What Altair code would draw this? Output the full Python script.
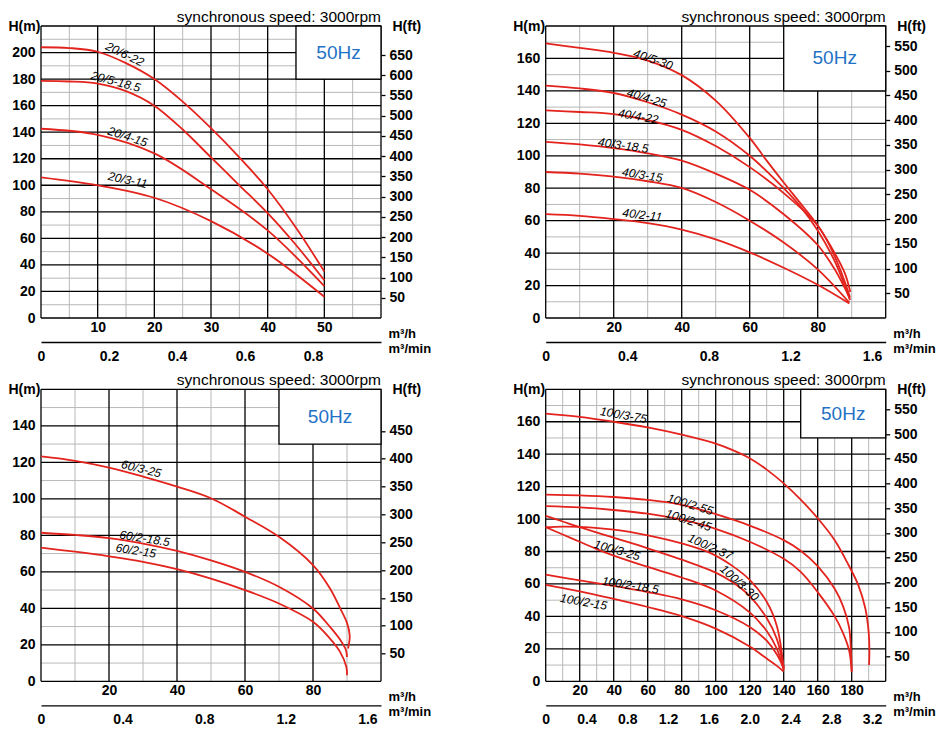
import altair as alt
import pandas as pd

FONT = "Liberation Sans"
RED = "#e3231d"
GRAY = "#b8b8b8"
BLUE = "#1f72c6"
W, H = 340, 292
FT = 3.28084
TITLE = "synchronous speed: 3000rpm"

# ---------------- Panel 1 (20/...) ----------------
P1_NAMES = ["20/6-22", "20/5-18.5", "20/4-15", "20/3-11"]
P1_Q = {
    "20/6-22": [0, 5, 10, 15, 20, 25, 30, 35, 40, 45, 50],
    "20/5-18.5": [0, 5, 10, 15, 20, 25, 30, 35, 40, 45, 50],
    "20/4-15": [0, 10, 20, 30, 40, 50],
    "20/3-11": [0, 10, 20, 30, 40, 50],
}
P1_H = {
    "20/6-22": [204, 203.4, 200.6, 192, 180, 163, 143, 121, 97, 68, 35],
    "20/5-18.5": [178.6, 178.2, 176.6, 171, 160, 142, 121, 100, 79, 55, 28.4],
    "20/4-15": [142.6, 138, 124, 97, 66, 24],
    "20/3-11": [106, 100, 90.6, 73, 48.5, 16],
}
P1_LABELS = [("20/6-22", 14.8, 198.7, 26), ("20/5-18.5", 13.2, 178.1, 15),
             ("20/4-15", 15.3, 136.6, 18), ("20/3-11", 15.3, 104, 12)]
P1_XTICKS = [10, 20, 30, 40, 50]
P1_YTICKS = [0, 20, 40, 60, 80, 100, 120, 140, 160, 180, 200]
P1_FTTICKS = [50, 100, 150, 200, 250, 300, 350, 400, 450, 500, 550, 600, 650]
P1_MINTICKS = [0, 0.2, 0.4, 0.6, 0.8]

# ---------------- Panel 2 (40/...) ----------------
P2_NAMES = ["40/5-30", "40/4-25", "40/4-22", "40/3-18.5", "40/3-15", "40/2-11"]
P2_Q = {
    "40/5-30": [0, 10, 20, 30, 40, 50, 60, 65, 70, 75, 80, 85, 88, 89.6],
    "40/4-25": [0, 10, 20, 30, 40, 50, 60, 70, 75, 80, 85, 89.5],
    "40/4-22": [0, 10, 20, 30, 40, 50, 60, 70, 80, 85, 89.5],
    "40/3-18.5": [0, 10, 20, 30, 40, 50, 60, 70, 80, 85, 89.5],
    "40/3-15": [0, 10, 20, 30, 40, 50, 60, 70, 80, 89.3],
    "40/2-11": [0, 10, 20, 30, 40, 50, 60, 70, 80, 89.3],
}
P2_H = {
    "40/5-30": [169.3, 166.5, 163.5, 158.7, 149.7, 134, 111, 97, 83.5, 70.5, 57, 40, 27.5, 16],
    "40/4-25": [143.3, 141.5, 138.7, 133, 125.4, 115, 100, 80, 68.5, 54, 35, 11],
    "40/4-22": [128, 127, 125.7, 122, 116, 106, 93, 77, 57, 38, 13],
    "40/3-18.5": [108.6, 107, 104.7, 101.5, 97, 89, 79, 64, 45, 30, 12],
    "40/3-15": [90, 89, 87.2, 84.3, 80.2, 71.5, 60, 46.5, 30, 9.5],
    "40/2-11": [64, 63, 61, 58.5, 54.5, 48.5, 40.5, 31, 20.5, 9],
}
P2_LABELS = [("40/5-30", 31.6, 159.4, 19), ("40/4-25", 29.7, 135.6, 17),
             ("40/4-22", 27.2, 124.3, 10), ("40/3-18.5", 22.8, 106.4, 8),
             ("40/3-15", 28.4, 88.2, 9), ("40/2-11", 28.4, 63.5, 7)]
P2_XTICKS = [20, 40, 60, 80]
P2_YTICKS = [0, 20, 40, 60, 80, 100, 120, 140, 160]
P2_FTTICKS = [50, 100, 150, 200, 250, 300, 350, 400, 450, 500, 550]
P2_MINTICKS = [0, 0.4, 0.8, 1.2, 1.6]

# ---------------- Panel 3 (60/...) ----------------
P3_NAMES = ["60/3-25", "60/2-18.5", "60/2-15"]
P3_Q = {
    "60/3-25": [0, 10, 20, 30, 40, 50, 60, 70, 80, 85, 88, 90, 90.8, 90.3],
    "60/2-18.5": [0, 10, 20, 30, 40, 50, 60, 70, 80, 85, 88, 89.7, 90],
    "60/2-15": [0, 10, 20, 30, 40, 50, 60, 70, 80, 85, 88, 89.8, 90],
}
P3_H = {
    "60/3-25": [123.2, 120.8, 117.1, 112.2, 106.7, 100.3, 90.2, 79.2, 63.7, 50.9, 40, 32, 25, 18],
    "60/2-18.5": [81.4, 80.2, 78.5, 75.5, 71.5, 66.3, 60, 51.8, 39.9, 29.8, 22.7, 17, 13.3],
    "60/2-15": [73.2, 71, 68.5, 65.5, 61.5, 56.3, 50, 42.6, 32.6, 23.4, 16, 8, 3.3],
}
P3_LABELS = [("60/3-25", 29.5, 116.4, 14), ("60/2-18.5", 30.5, 78.3, 9),
             ("60/2-15", 27.9, 71.6, 9)]
P3_XTICKS = [20, 40, 60, 80]
P3_YTICKS = [0, 20, 40, 60, 80, 100, 120, 140]
P3_FTTICKS = [50, 100, 150, 200, 250, 300, 350, 400, 450]
P3_MINTICKS = [0, 0.4, 0.8, 1.2, 1.6]

# ---------------- Panel 4 (100/...) ----------------
P4_NAMES = ["100/3-75", "100/2-55", "100/2-45", "100/2-37", "100/3-30",
            "100/3-25", "100/2-18.5", "100/2-15"]
P4_Q = {
    "100/3-75": [0, 20, 40, 60, 80, 100, 110, 120, 130, 140, 150, 160, 170, 178, 184, 188,
                 190, 190.4, 190.2],
    "100/2-55": [0, 20, 40, 60, 80, 100, 120, 140, 150, 160, 170, 175, 178.5, 179.5, 180],
    "100/2-45": [0, 20, 40, 60, 80, 100, 120, 140, 150, 160, 170, 175, 178.5, 179.5, 180],
    "100/2-37": [0, 10, 20, 40, 60, 80, 97, 110, 120, 130, 136, 140],
    "100/3-30": [0, 10, 20, 40, 60, 80, 100, 110, 120, 130, 136, 140],
    "100/3-25": [0, 10, 20, 30, 40, 60, 80, 100, 120, 130, 136, 140],
    "100/2-18.5": [0, 20, 40, 60, 80, 100, 120, 130, 136, 140],
    "100/2-15": [0, 20, 40, 60, 80, 100, 120, 130, 136, 140],
}
P4_H = {
    "100/3-75": [165, 163, 160, 156.5, 152, 146.5, 142.5, 137.5, 130.5, 122, 112, 100.5,
                 87, 72, 59, 45, 30, 18, 10],
    "100/2-55": [115.1, 114.6, 113.6, 111.8, 108.8, 103, 96, 87, 80.5, 71, 57, 46, 33, 20, 6],
    "100/2-45": [108, 107.2, 105.6, 103.3, 99.6, 94, 86, 75.5, 67.5, 55, 40, 29.5, 19, 12, 6],
    "100/2-37": [95, 95.4, 95.2, 93.5, 90, 85, 79, 71, 62.5, 49, 34, 8],
    "100/3-30": [102, 98.5, 95, 88.5, 82, 75, 67, 61, 52.5, 39, 26, 8],
    "100/3-25": [95, 90.5, 86, 81.5, 77.5, 70.5, 64, 56, 42.5, 31, 20, 7],
    "100/2-18.5": [65.7, 62.2, 58.8, 55, 50.5, 43.8, 33.5, 25, 16.5, 8],
    "100/2-15": [59.5, 55.5, 50.8, 45.8, 40.2, 32.5, 21.5, 14, 9.5, 6],
}
P4_LABELS = [("100/3-75", 45.8, 164.1, 10), ("100/2-55", 85, 109, 17),
             ("100/2-45", 84, 99.3, 18), ("100/2-37", 96.8, 82.9, 24),
             ("100/3-30", 114, 60.7, 42), ("100/3-25", 42, 80.8, 16),
             ("100/2-18.5", 49.8, 59.2, 9), ("100/2-15", 22.3, 48.9, 10)]
P4_XTICKS = [20, 40, 60, 80, 100, 120, 140, 160, 180]
P4_YTICKS = [0, 20, 40, 60, 80, 100, 120, 140, 160]
P4_FTTICKS = [50, 100, 150, 200, 250, 300, 350, 400, 450, 500, 550]
P4_MINTICKS = [0, 0.4, 0.8, 1.2, 1.6, 2.0, 2.4, 2.8, 3.2]


def base_axis(**kw):
    d = dict(labelFont=FONT, labelFontSize=14, labelFontWeight="bold", labelColor="black",
             titleFont=FONT, titleFontSize=14, titleFontWeight="bold", titleColor="black",
             grid=False, domain=False, labelFlush=False, labelOverlap=False)
    d.update(kw)
    return alt.Axis(**d)


def panel(names, qs, hs, labels, xmax, xmaj, xmin_step, ymax, box,
          xticks, yticks, ftticks, minticks):
    xs = alt.Scale(domain=[0, xmax], nice=False, zero=False)
    ys = alt.Scale(domain=[0, ymax], nice=False, zero=False)
    xax = base_axis(orient="bottom", values=xticks, format="d", ticks=False, tickSize=0,
                    labelPadding=2, title="m³/h", titleX=W + 7, titleY=15, titleAlign="left",
                    titleBaseline="middle", titleAngle=0, titleFontSize=13)
    yax = base_axis(orient="left", values=yticks, format="d", ticks=False, tickSize=0,
                    labelPadding=6, title="H(m)", titleAngle=0, titleAlign="left",
                    titleBaseline="middle", titleX=-33, titleY=0)

    rows = []
    for n in names:
        for i, (q, h) in enumerate(zip(qs[n], hs[n])):
            rows.append({"curve": n, "i": i, "q": q, "h": h})
    df = pd.DataFrame(rows)

    vx_all = list(range(0, xmax + 1, xmin_step))
    vx_major = [v for v in vx_all if v % xmaj == 0]
    vx_minor = [v for v in vx_all if v % xmaj != 0]
    hy_all = list(range(0, ymax + 1, 10))
    hy_major = [v for v in hy_all if v % 20 == 0]
    hy_minor = [v for v in hy_all if v % 20 != 0]

    def rx(vals, color, w):
        return alt.Chart(pd.DataFrame({"v": vals})).mark_rule(color=color, strokeWidth=w).encode(
            x=alt.X("v:Q", scale=xs, axis=xax))

    def ry(vals, color, w):
        return alt.Chart(pd.DataFrame({"v": vals})).mark_rule(color=color, strokeWidth=w).encode(
            y=alt.Y("v:Q", scale=ys, axis=yax))

    bdf = pd.DataFrame({"x": [box[0]], "x2": [box[1]], "y": [box[2]], "y2": [box[3]]})
    box_layer = alt.Chart(bdf).mark_rect(fill="white", stroke="black", strokeWidth=1.3).encode(
        x=alt.X("x:Q", scale=xs, axis=xax), x2="x2:Q",
        y=alt.Y("y:Q", scale=ys, axis=yax), y2="y2:Q")
    hz = alt.Chart(bdf).transform_calculate(
        xc="(datum.x + datum.x2) / 2", yc="(datum.y + datum.y2) / 2"
    ).mark_text(text="50Hz", color=BLUE, fontSize=19, font=FONT).encode(
        x=alt.X("xc:Q", scale=xs, axis=xax), y=alt.Y("yc:Q", scale=ys, axis=yax))

    lines = alt.Chart(df).mark_line(color=RED, strokeWidth=1.8, interpolate="catmull-rom").encode(
        x=alt.X("q:Q", scale=xs, axis=xax),
        y=alt.Y("h:Q", scale=ys, axis=yax),
        detail="curve:N", order="i:Q")

    ldf = pd.DataFrame(labels, columns=["t", "q", "h", "a"])
    lab = alt.Chart(ldf).mark_text(font=FONT, fontStyle="italic", fontSize=12, color="black").encode(
        x=alt.X("q:Q", scale=xs, axis=xax), y=alt.Y("h:Q", scale=ys, axis=yax),
        text="t:N", angle=alt.Angle("a:Q", scale=None))

    inner = alt.layer(rx(vx_minor, GRAY, 1), ry(hy_minor, GRAY, 1),
                      rx(vx_major, "black", 1.3), ry(hy_major, "black", 1.3),
                      box_layer, hz, lines, lab)

    ft = alt.Chart(pd.DataFrame({"ft": ftticks})).mark_point(opacity=0).encode(
        y=alt.Y("ft:Q", scale=alt.Scale(domain=[0, ymax * FT], nice=False, zero=False),
                axis=base_axis(orient="right", values=ftticks, format="d", ticks=True,
                               tickSize=4, tickColor="black", tickWidth=1.3, labelPadding=4,
                               title="H(ft)", titleAngle=0, titleAlign="left",
                               titleBaseline="middle", titleX=11, titleY=0)))

    mm = alt.Chart(pd.DataFrame({"m": minticks})).mark_point(opacity=0).encode(
        x=alt.X("m:Q", scale=alt.Scale(domain=[0, xmax / 60], nice=False, zero=False),
                axis=base_axis(orient="bottom", offset=24, values=minticks,
                               labelExpr="datum.value == 0 ? '0' : format(datum.value, '.1f')",
                               domain=True, domainColor="black", domainWidth=1.3,
                               ticks=False, tickSize=0, labelPadding=7, title="m³/min",
                               titleX=W + 7, titleY=6, titleAlign="left",
                               titleBaseline="middle", titleAngle=0, titleFontSize=13)))

    return alt.layer(inner, ft, mm).resolve_scale(x="independent", y="independent").properties(
        width=W, height=H,
        title=alt.TitleParams(TITLE, anchor="end", frame="group", fontSize=15.5,
                              fontWeight="normal", font=FONT, color="black", offset=-6))


p1 = panel(P1_NAMES, P1_Q, P1_H, P1_LABELS, 60, 10, 5, 220, (45, 60, 180, 220),
           P1_XTICKS, P1_YTICKS, P1_FTTICKS, P1_MINTICKS)
p2 = panel(P2_NAMES, P2_Q, P2_H, P2_LABELS, 100, 20, 10, 180, (70, 100, 140, 180),
           P2_XTICKS, P2_YTICKS, P2_FTTICKS, P2_MINTICKS)
p3 = panel(P3_NAMES, P3_Q, P3_H, P3_LABELS, 100, 20, 10, 160, (70, 100, 130, 160),
           P3_XTICKS, P3_YTICKS, P3_FTTICKS, P3_MINTICKS)
p4 = panel(P4_NAMES, P4_Q, P4_H, P4_LABELS, 200, 20, 10, 180, (150, 200, 150, 180),
           P4_XTICKS, P4_YTICKS, P4_FTTICKS, P4_MINTICKS)

chart = alt.concat(p1, p2, p3, p4, columns=2,
                   spacing={"row": 71.3, "column": 164.7}, bounds="flush").properties(
    padding={"top": 1, "left": 0, "right": 0, "bottom": 0}
).configure(font=FONT).configure_view(stroke=None)

chart.save("out.html", embed_options={"renderer": "svg", "actions": False})
